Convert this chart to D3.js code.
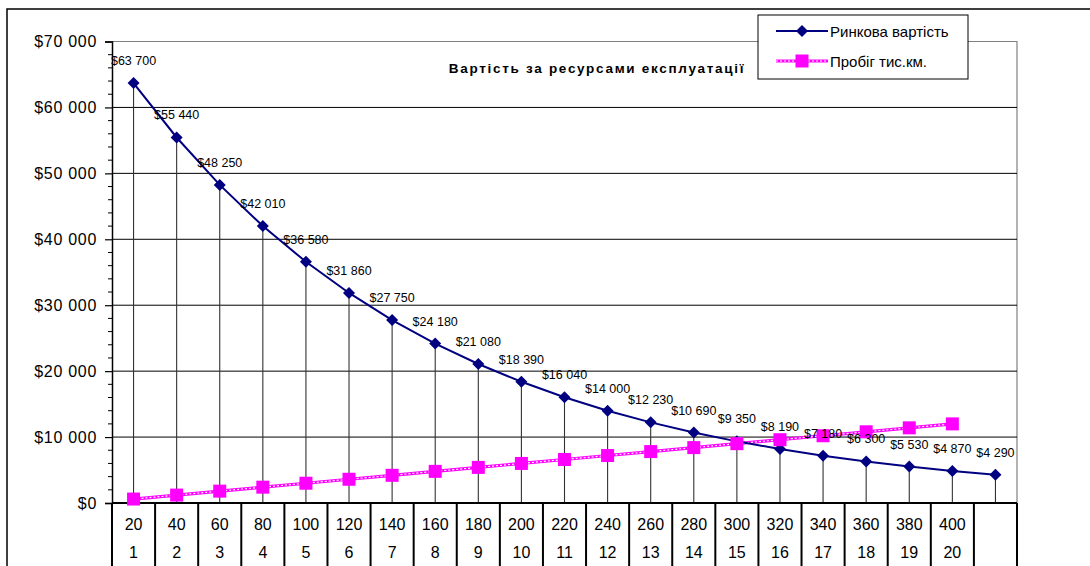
<!DOCTYPE html>
<html>
<head>
<meta charset="utf-8">
<script src="https://cdn.jsdelivr.net/npm/d3@7"></script>
<style>
  html, body { margin: 0; padding: 0; background: #fff; }
  svg { display: block; font-family: "Liberation Sans", Arial, sans-serif; }
</style>
</head>
<body>
<svg id="chart" width="1090" height="566"></svg>
<script>
// Category rows: mileage (thousand km) and year number
const mileageLabels = ["20","40","60","80","100","120","140","160","180","200","220","240","260","280","300","320","340","360","380","400",""];
const yearLabels = ["1","2","3","4","5","6","7","8","9","10","11","12","13","14","15","16","17","18","19","20",""];

// Series values
const marketValue = [63700, 55440, 48250, 42010, 36580, 31860, 27750, 24180, 21080, 18390, 16040, 14000, 12230, 10690, 9350, 8190, 7180, 6300, 5530, 4870, 4290];
const mileage = [600, 1200, 1800, 2400, 3000, 3600, 4200, 4800, 5400, 6000, 6600, 7200, 7800, 8400, 9000, 9600, 10200, 10800, 11400, 12000];

const yTicks = [0, 10000, 20000, 30000, 40000, 50000, 60000, 70000];
const title = "Вартість за ресурсами експлуатації";
const seriesNames = ["Ринкова вартість", "Пробіг тис.км."];

const navy = "#000080", magenta = "#ff00ff";
const fmt = v => "$" + d3.format(",")(v).replace(/,/g, " ");

const svg = d3.select("#chart");
const plotLeft = 112, plotRight = 1017, plotTop = 41.5, plotBottom = 503;

const x = d3.scaleBand().domain(d3.range(mileageLabels.length)).range([plotLeft, plotRight]).padding(0);
const y = d3.scaleLinear().domain([0, 70000]).range([plotBottom, plotTop]);
const cx = i => x(i) + x.bandwidth() / 2;

// Outer frame
svg.append("path").attr("d", `M7,566 V9 H1090`).attr("fill", "none").attr("stroke", "#000").attr("stroke-width", 1.5);

// Plot area border
svg.append("path").attr("d", `M${plotLeft},${y(70000)} H${plotRight} V${plotBottom}`)
  .attr("fill", "none").attr("stroke", "#808080").attr("stroke-width", 1.2);

// Horizontal gridlines
svg.append("g").selectAll("line").data(yTicks.filter(t => t > 0 && t < 70000)).join("line")
  .attr("x1", plotLeft).attr("x2", plotRight).attr("y1", d => y(d)).attr("y2", d => y(d))
  .attr("stroke", "#000").attr("stroke-width", 1);

// Y axis with major and minor ticks
const yAxis = svg.append("g").attr("transform", `translate(${plotLeft},0)`);
yAxis.call(d3.axisLeft(y).tickValues(yTicks).tickSize(7).tickPadding(8).tickFormat(fmt))
  .call(g => g.select(".domain").attr("stroke-width", 1.5))
  .call(g => g.selectAll(".tick line").attr("stroke-width", 1.2))
  .call(g => g.selectAll("text").attr("font-size", 16).attr("fill", "#000")
    .attr("letter-spacing", 0.7)
    .attr("font-family", "Liberation Sans, Arial, sans-serif"));
yAxis.append("g").selectAll("line").data(d3.range(0, 70001, 2000).filter(v => v % 10000 !== 0)).join("line")
  .attr("x1", -4).attr("x2", 0).attr("y1", d => y(d)).attr("y2", d => y(d))
  .attr("stroke", "#000").attr("stroke-width", 1);

// Drop lines from market value points
svg.append("g").selectAll("line").data(marketValue).join("line")
  .attr("x1", (d, i) => cx(i)).attr("x2", (d, i) => cx(i))
  .attr("y1", d => y(d)).attr("y2", plotBottom)
  .attr("stroke", "#333").attr("stroke-width", 1.1);

// Category table beneath the axis
const table = svg.append("g");
table.selectAll("line.div").data(d3.range(mileageLabels.length + 1)).join("line")
  .attr("class", "div")
  .attr("x1", d => plotLeft + d * x.bandwidth()).attr("x2", d => plotLeft + d * x.bandwidth())
  .attr("y1", plotBottom).attr("y2", 566)
  .attr("stroke", "#000").attr("stroke-width", 2);
table.selectAll("text.km").data(mileageLabels).join("text")
  .attr("class", "km").attr("x", (d, i) => cx(i)).attr("y", 530)
  .attr("text-anchor", "middle").attr("font-size", 16).text(d => d);
table.selectAll("text.yr").data(yearLabels).join("text")
  .attr("class", "yr").attr("x", (d, i) => cx(i)).attr("y", 558)
  .attr("text-anchor", "middle").attr("font-size", 16).text(d => d);

// X axis line
svg.append("line").attr("x1", plotLeft).attr("x2", plotRight).attr("y1", plotBottom).attr("y2", plotBottom)
  .attr("stroke", "#000").attr("stroke-width", 2);

// Mileage series: chain-like dotted line
const lineM = d3.line().x((d, i) => cx(i)).y(d => y(d));
svg.append("path").attr("d", lineM(mileage)).attr("fill", "none")
  .attr("stroke", magenta).attr("stroke-width", 3.2);
svg.append("path").attr("d", lineM(mileage)).attr("fill", "none")
  .attr("stroke", "#fff").attr("stroke-width", 1.2).attr("stroke-dasharray", "2,2");

// Market value series
svg.append("path").attr("d", lineM(marketValue)).attr("fill", "none")
  .attr("stroke", navy).attr("stroke-width", 2);

// Markers
const diamond = d3.symbol().type(d3.symbolSquare).size(72);
svg.append("g").selectAll("path").data(marketValue).join("path")
  .attr("d", diamond).attr("fill", navy)
  .attr("transform", (d, i) => `translate(${cx(i)},${y(d)}) rotate(45)`);
svg.append("g").selectAll("rect").data(mileage).join("rect")
  .attr("x", (d, i) => cx(i) - 6.5).attr("y", d => y(d) - 6.5)
  .attr("width", 13).attr("height", 13).attr("fill", magenta);

// Value labels
svg.append("g").selectAll("text").data(marketValue).join("text")
  .attr("x", (d, i) => cx(i)).attr("y", d => y(d) - 18)
  .attr("text-anchor", "middle").attr("font-size", 12.5).attr("fill", "#000")
  .text(fmt);

// Title
svg.append("text").attr("x", 597).attr("y", 72.5).attr("text-anchor", "middle")
  .attr("font-size", 13.5).attr("font-weight", "bold").attr("letter-spacing", 1.7).text(title);

// Legend
const lg = svg.append("g");
lg.append("rect").attr("x", 758).attr("y", 15).attr("width", 210).attr("height", 64)
  .attr("fill", "#fff").attr("stroke", "#000").attr("stroke-width", 1);
lg.append("line").attr("x1", 776).attr("x2", 828).attr("y1", 31).attr("y2", 31)
  .attr("stroke", navy).attr("stroke-width", 2);
lg.append("path").attr("d", diamond).attr("fill", navy).attr("transform", "translate(802,31) rotate(45)");
lg.append("line").attr("x1", 776).attr("x2", 828).attr("y1", 61).attr("y2", 61)
  .attr("stroke", magenta).attr("stroke-width", 3.2);
lg.append("line").attr("x1", 776).attr("x2", 828).attr("y1", 61).attr("y2", 61)
  .attr("stroke", "#fff").attr("stroke-width", 1.2).attr("stroke-dasharray", "2,2");
lg.append("rect").attr("x", 795.5).attr("y", 54.5).attr("width", 13).attr("height", 13).attr("fill", magenta);
lg.selectAll("text").data(seriesNames).join("text")
  .attr("x", 830).attr("y", (d, i) => 36.5 + i * 30.5)
  .attr("font-size", 15).attr("fill", "#000").text(d => d);
</script>
</body>
</html>
